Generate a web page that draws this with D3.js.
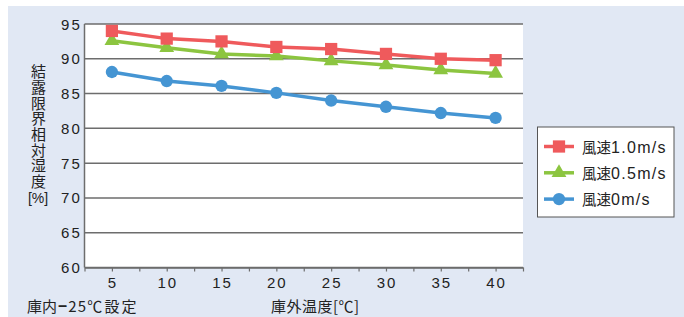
<!DOCTYPE html>
<html>
<head>
<meta charset="utf-8">
<script src="https://cdn.jsdelivr.net/npm/d3@7"></script>
<style>
  body { margin: 0; background: #fff; }
  svg text { font-family: "Liberation Sans", "Noto Sans CJK JP", sans-serif; fill: #222; }
  .jp { font-family: "Noto Sans CJK JP", sans-serif; }
</style>
</head>
<body>
<div id="chart"></div>
<script>
// Data
const temps = [5, 10, 15, 20, 25, 30, 35, 40];
const wind10 = [94.0, 92.9, 92.5, 91.7, 91.4, 90.7, 90.0, 89.8];
const wind05 = [92.6, 91.6, 90.7, 90.4, 89.7, 89.1, 88.4, 87.9];
const wind00 = [88.1, 86.8, 86.1, 85.1, 84.0, 83.1, 82.2, 81.5];
const yTicks = [60, 65, 70, 75, 80, 85, 90, 95];
const seriesNames = ['風速1.0m/s', '風速0.5m/s', '風速0m/s'];

const W = 684, H = 317;
const plot = { left: 84.5, right: 523, top: 24, bottom: 267.5 };

const svg = d3.select('#chart').append('svg')
    .attr('width', W)
    .attr('height', H);

// Panel background
svg.append('rect')
    .attr('x', 8).attr('y', 6)
    .attr('width', W - 8).attr('height', H - 6)
    .attr('fill', '#e1e8f4');

svg.append('rect')
    .attr('x', plot.left).attr('y', plot.top)
    .attr('width', plot.right - plot.left).attr('height', plot.bottom - plot.top)
    .attr('fill', '#fff');

// Scales
const x = d3.scaleLinear().domain([2.5, 42.5]).range([plot.left, plot.right]);
const y = d3.scaleLinear().domain([60, 95]).range([plot.bottom, plot.top]);

// Gridlines
svg.append('g')
    .selectAll('line')
    .data(yTicks)
    .enter()
    .append('line')
    .attr('x1', plot.left).attr('x2', plot.right)
    .attr('y1', d => y(d)).attr('y2', d => y(d))
    .attr('stroke', '#6d6d6d')
    .attr('stroke-width', 1.5);

// Left axis line
svg.append('line')
    .attr('x1', plot.left).attr('x2', plot.left)
    .attr('y1', plot.top).attr('y2', plot.bottom)
    .attr('stroke', '#6d6d6d')
    .attr('stroke-width', 1.5);

// Y tick labels
svg.append('g')
    .selectAll('text')
    .data(yTicks)
    .enter()
    .append('text')
    .attr('x', 82)
    .attr('y', d => y(d) + 5.5)
    .attr('text-anchor', 'end')
    .style('font-size', '15px')
    .style('letter-spacing', '2.2px')
    .text(d => d);

// Bottom axis: ticks every 2.5, labels every 5
const xAxis = d3.axisBottom(x)
    .tickValues(d3.range(2.5, 42.6, 2.5))
    .tickSize(4)
    .tickSizeOuter(0)
    .tickFormat('');
const gx = svg.append('g')
    .attr('transform', `translate(0,${plot.bottom})`)
    .call(xAxis);
gx.select('.domain').attr('stroke', '#6d6d6d').attr('stroke-width', 1.5);
gx.selectAll('.tick line').attr('stroke', '#6d6d6d').attr('stroke-width', 1.2);

svg.append('g')
    .selectAll('text')
    .data(temps)
    .enter()
    .append('text')
    .attr('x', d => x(d) + 1)
    .attr('y', 288)
    .attr('text-anchor', 'middle')
    .style('font-size', '15px')
    .style('letter-spacing', '2px')
    .text(d => d);

// Series
const series = [
    { name: seriesNames[0], values: wind10, color: '#ef5a5c', shape: 'square' },
    { name: seriesNames[1], values: wind05, color: '#8cc540', shape: 'triangle' },
    { name: seriesNames[2], values: wind00, color: '#4595d3', shape: 'circle' }
];

const symbolFor = {
    square: d3.symbol().type(d3.symbolSquare).size(150),
    triangle: d3.symbol().type(d3.symbolTriangle).size(95),
    circle: d3.symbol().type(d3.symbolCircle).size(120)
};

const line = d3.line()
    .x((d, i) => x(temps[i]))
    .y(d => y(d));

series.slice().reverse().forEach(s => {
    svg.append('path')
        .datum(s.values)
        .attr('fill', 'none')
        .attr('stroke', s.color)
        .attr('stroke-width', 3.5)
        .attr('d', line);

    svg.append('g')
        .selectAll('path')
        .data(s.values)
        .enter()
        .append('path')
        .attr('transform', (d, i) => `translate(${x(temps[i])},${y(d)})`)
        .attr('d', symbolFor[s.shape])
        .attr('fill', s.color);
});

// Y axis title (vertical)
svg.append('text')
    .attr('class', 'jp')
    .attr('x', 38.5)
    .attr('y', 64)
    .attr('writing-mode', 'vertical-rl')
    .style('font-size', '15px')
    .style('letter-spacing', '0.7px')
    .text('結露限界相対湿度');

svg.append('text')
    .attr('x', 38)
    .attr('y', 203)
    .attr('text-anchor', 'middle')
    .style('font-size', '14px')
    .text('[%]');

// X axis title and note
svg.append('text')
    .attr('class', 'jp')
    .attr('x', 271)
    .attr('y', 312)
    .attr('textLength', 88)
    .attr('lengthAdjust', 'spacing')
    .style('font-size', '15px')
    .text('庫外温度[℃]');

const note = svg.append('text')
    .attr('class', 'jp')
    .attr('x', 27)
    .attr('y', 312)
    .style('font-size', '15px');
note.append('tspan').text('庫内');
note.append('tspan').style('font-weight', 900).attr('dx', 1).text('−');
note.append('tspan').attr('dx', 1).style('letter-spacing', '1.2px').text('25℃');
note.append('tspan').attr('dx', 1).style('letter-spacing', '2px').text('設定');

// Legend
const legend = svg.append('g');
legend.append('rect')
    .attr('x', 537.5).attr('y', 127)
    .attr('width', 136.5).attr('height', 90)
    .attr('fill', '#fff')
    .attr('stroke', '#555')
    .attr('stroke-width', 1);

series.forEach((s, i) => {
    const ly = 146.5 + i * 26.3;
    legend.append('line')
        .attr('x1', 544).attr('x2', 574)
        .attr('y1', ly).attr('y2', ly)
        .attr('stroke', s.color)
        .attr('stroke-width', 3.5);
    legend.append('path')
        .attr('transform', `translate(559,${ly})`)
        .attr('d', symbolFor[s.shape])
        .attr('fill', s.color);
    const t = legend.append('text')
        .attr('x', 582)
        .attr('y', ly + 6);
    t.append('tspan')
        .attr('class', 'jp')
        .style('font-size', '14.5px')
        .text(s.name.slice(0, 2));
    t.append('tspan')
        .style('font-size', '16px')
        .style('letter-spacing', '1.3px')
        .text(s.name.slice(2));
});
</script>
</body>
</html>
